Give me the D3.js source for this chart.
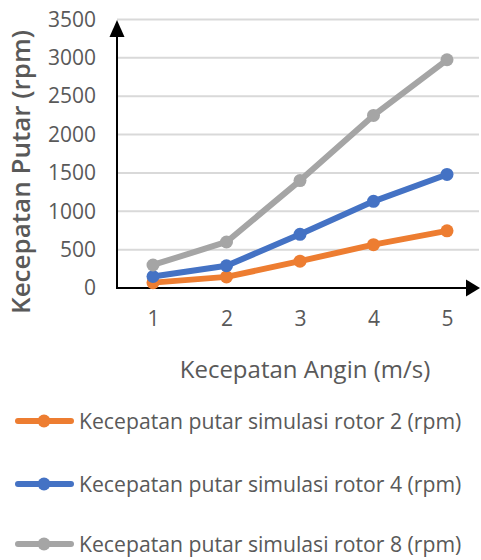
<!DOCTYPE html>
<html>
<head>
<meta charset="utf-8">
<script src="https://cdn.jsdelivr.net/npm/d3@7"></script>
<style>
  html, body { margin: 0; padding: 0; background: #fff; }
  svg { display: block; }
  text { font-family: "Open Sans", Lato, sans-serif; }
</style>
</head>
<body>
<svg id="chart" width="481" height="560"></svg>
<script>
// Wind speed (m/s) on the x axis
const windSpeeds = [1, 2, 3, 4, 5];

// Simulated rotor speed (rpm) for each rotor configuration
const rotor2 = [70, 145, 350, 565, 745];
const rotor4 = [150, 290, 700, 1130, 1480];
const rotor8 = [300, 600, 1400, 2250, 2975];

const seriesNames = [
  "Kecepatan putar simulasi rotor 2 (rpm)",
  "Kecepatan putar simulasi rotor 4 (rpm)",
  "Kecepatan putar simulasi rotor 8 (rpm)"
];
const seriesColors = ["#ED7D31", "#4472C4", "#A5A5A5"];
const yTicks = [0, 500, 1000, 1500, 2000, 2500, 3000, 3500];

const xTitle = "Kecepatan Angin (m/s)";
const yTitle = "Kecepatan Putar (rpm)";

const series = [rotor2, rotor4, rotor8].map((vals, i) => ({
  name: seriesNames[i],
  color: seriesColors[i],
  points: vals.map((v, j) => ({ x: windSpeeds[j], y: v }))
}));

const svg = d3.select("#chart");
const textColor = "#595959";

const plot = { left: 117, right: 479, top: 19.5, bottom: 288 };

const x = d3.scalePoint()
  .domain(windSpeeds)
  .range([153, 447]);

const y = d3.scaleLinear()
  .domain([0, 3500])
  .range([plot.bottom, plot.top]);

// horizontal gridlines
svg.append("g")
  .selectAll("line")
  .data(yTicks.filter(d => d > 0))
  .join("line")
  .attr("x1", plot.left)
  .attr("x2", plot.right)
  .attr("y1", d => y(d))
  .attr("y2", d => y(d))
  .attr("stroke", "#D9D9D9")
  .attr("stroke-width", 2);

// y tick labels
const yAxis = d3.axisLeft(y)
  .tickValues(yTicks)
  .tickFormat(d3.format("d"))
  .tickSize(0)
  .tickPadding(0);
const yg = svg.append("g")
  .attr("transform", "translate(96,0)")
  .call(yAxis);
yg.select(".domain").remove();
yg.selectAll("text")
  .attr("fill", textColor)
  .style("font-size", "21px")
  .style("font-family", "'Open Sans', Lato, sans-serif");

// x tick labels
const xAxis = d3.axisBottom(x).tickSize(0).tickPadding(0);
const xg = svg.append("g")
  .attr("transform", "translate(0,311)")
  .call(xAxis);
xg.select(".domain").remove();
xg.selectAll("text")
  .attr("fill", textColor)
  .style("font-size", "21px")
  .style("font-family", "'Open Sans', Lato, sans-serif");

// axis lines with arrowheads
svg.append("line")
  .attr("x1", plot.left).attr("x2", 468)
  .attr("y1", plot.bottom).attr("y2", plot.bottom)
  .attr("stroke", "#000").attr("stroke-width", 2);
svg.append("path")
  .attr("d", `M480,${plot.bottom} L466,${plot.bottom - 8.5} L466,${plot.bottom + 8.5} Z`)
  .attr("fill", "#000");

svg.append("line")
  .attr("x1", plot.left).attr("x2", plot.left)
  .attr("y1", plot.bottom + 1).attr("y2", 34)
  .attr("stroke", "#000").attr("stroke-width", 2);
svg.append("path")
  .attr("d", `M${plot.left},20 L${plot.left - 7.5},37 L${plot.left + 7.5},37 Z`)
  .attr("fill", "#000");

// series lines and markers
const line = d3.line().x(d => x(d.x)).y(d => y(d.y));

const sg = svg.append("g")
  .selectAll("g")
  .data(series)
  .join("g");

sg.append("path")
  .attr("d", d => line(d.points))
  .attr("fill", "none")
  .attr("stroke", d => d.color)
  .attr("stroke-width", 6)
  .attr("stroke-linejoin", "round")
  .attr("stroke-linecap", "round");

sg.selectAll("circle")
  .data(d => d.points.map(p => ({ ...p, color: d.color })))
  .join("circle")
  .attr("cx", d => x(d.x))
  .attr("cy", d => y(d.y))
  .attr("r", 6.5)
  .attr("fill", d => d.color);

// axis titles
svg.append("text")
  .attr("x", 305)
  .attr("y", 378)
  .attr("text-anchor", "middle")
  .attr("fill", textColor)
  .style("font-size", "24px")
  .text(xTitle);

svg.append("text")
  .attr("transform", "translate(30,172) rotate(-90)")
  .attr("text-anchor", "middle")
  .attr("fill", textColor)
  .style("font-size", "26px")
  .style("font-weight", "600")
  .text(yTitle);

// legend
const legendY = [421, 484, 544];
const lg = svg.append("g")
  .selectAll("g")
  .data(series)
  .join("g")
  .attr("transform", (d, i) => `translate(0,${legendY[i]})`);

lg.append("line")
  .attr("x1", 18).attr("x2", 71)
  .attr("y1", 0).attr("y2", 0)
  .attr("stroke", d => d.color)
  .attr("stroke-width", 6)
  .attr("stroke-linecap", "round");

lg.append("circle")
  .attr("cx", 44).attr("cy", 0).attr("r", 6.5)
  .attr("fill", d => d.color);

lg.append("text")
  .attr("x", 79)
  .attr("y", 8)
  .attr("fill", textColor)
  .style("font-size", "21.2px")
  .text(d => d.name);
</script>
</body>
</html>
